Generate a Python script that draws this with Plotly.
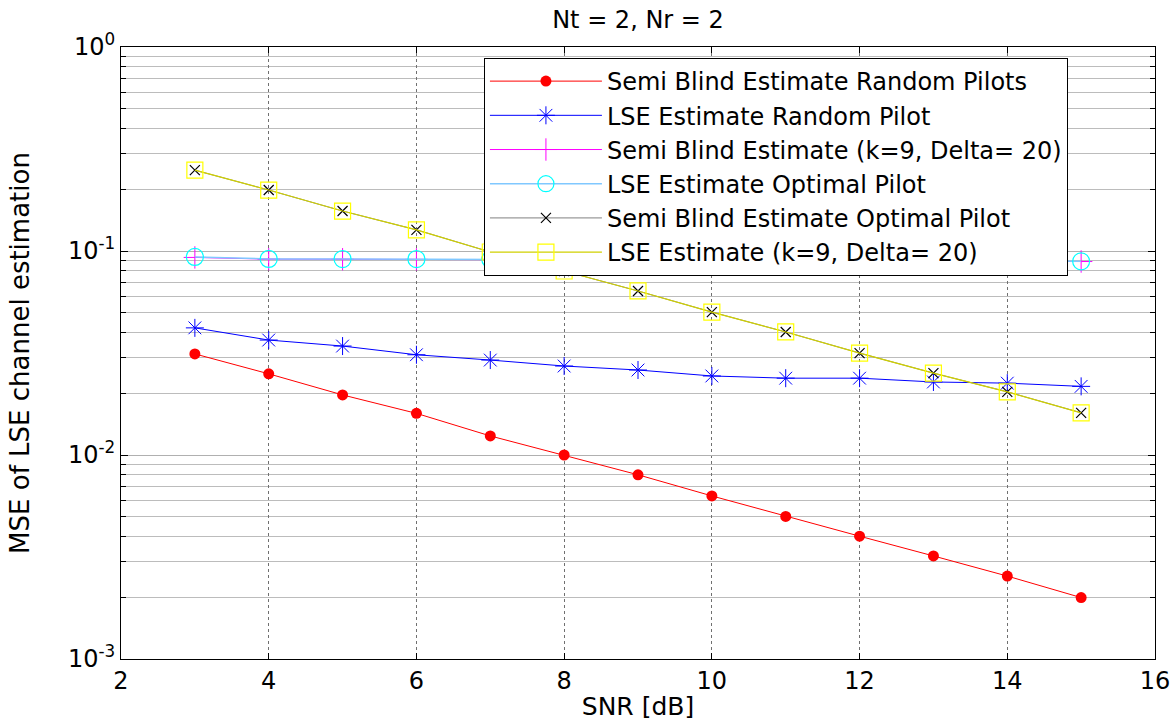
import plotly.graph_objects as go

snr = [3, 4, 5, 6, 7, 8, 9, 10, 11, 12, 13, 14, 15]

semi_blind_random = [0.0313, 0.0250, 0.0197, 0.0160, 0.0124, 0.0100, 0.0080,
                     0.0063, 0.0050, 0.0040, 0.0032, 0.00255, 0.0020]
lse_random = [0.0420, 0.0366, 0.0342, 0.0310, 0.0292, 0.0273, 0.0261,
              0.0244, 0.0238, 0.0238, 0.0228, 0.0225, 0.0217]
semi_blind_k9 = [0.0930, 0.0912, 0.0911, 0.0910, 0.0908, 0.0905, 0.0902,
                 0.0900, 0.0897, 0.0895, 0.0893, 0.0890, 0.0888]
lse_optimal = [0.0935, 0.0914, 0.0913, 0.0912, 0.0910, 0.0907, 0.0904,
               0.0902, 0.0899, 0.0897, 0.0895, 0.0892, 0.0890]
semi_blind_optimal = [0.249, 0.199, 0.157, 0.127, 0.0989, 0.0798, 0.0637,
                      0.0502, 0.0401, 0.0316, 0.0252, 0.0204, 0.0161]
lse_k9 = [0.249, 0.199, 0.157, 0.127, 0.0989, 0.0798, 0.0637,
          0.0502, 0.0401, 0.0316, 0.0252, 0.0204, 0.0161]

y_major = [1e-3, 1e-2, 1e-1, 1]
y_major_text = ["10<sup>-3</sup>", "10<sup>-2</sup>", "10<sup>-1</sup>", "10<sup>0</sup>"]
y_minor = [k * 10.0 ** e for e in (-3, -2, -1) for k in range(2, 10)]

FONT = "DejaVu Sans, Liberation Sans, Arial, sans-serif"

fig = go.Figure()

fig.add_trace(go.Scatter(
    x=snr, y=semi_blind_random, mode="lines+markers",
    name="Semi Blind Estimate Random Pilots",
    line=dict(color="#ff0000", width=1),
    marker=dict(symbol="circle", size=11, color="#ff0000")))
fig.add_trace(go.Scatter(
    x=snr, y=lse_random, mode="lines+markers",
    name="LSE Estimate Random Pilot",
    line=dict(color="#0000ff", width=1),
    marker=dict(symbol="asterisk-open", size=15, color="#0000ff",
                line=dict(color="#0000ff", width=1))))
fig.add_trace(go.Scatter(
    x=snr, y=semi_blind_k9, mode="lines+markers",
    name="Semi Blind Estimate (k=9, Delta= 20)",
    line=dict(color="#ff00ff", width=1),
    marker=dict(symbol="cross-thin-open", size=16, color="#ff00ff",
                line=dict(color="#ff00ff", width=1))))
fig.add_trace(go.Scatter(
    x=snr, y=lse_optimal, mode="lines+markers",
    name="LSE Estimate Optimal Pilot",
    line=dict(color="#80c8ff", width=1.5),
    marker=dict(symbol="circle-open", size=17, color="#00ffff",
                line=dict(color="#00ffff", width=1.2))))
fig.add_trace(go.Scatter(
    x=snr, y=semi_blind_optimal, mode="lines+markers",
    name="Semi Blind Estimate Optimal Pilot",
    line=dict(color="#808080", width=1),
    marker=dict(symbol="x-thin-open", size=10, color="#000000",
                line=dict(color="#000000", width=1.2))))
fig.add_trace(go.Scatter(
    x=snr, y=lse_k9, mode="lines+markers",
    name="LSE Estimate (k=9, Delta= 20)",
    line=dict(color="#d0d000", width=1.2),
    marker=dict(symbol="square-open", size=16, color="#ffff00",
                line=dict(color="#ffff00", width=1.2))))

fig.update_layout(
    width=1176, height=721,
    margin=dict(l=121, r=21, t=47, b=62, autoexpand=False),
    paper_bgcolor="white", plot_bgcolor="white",
    font=dict(family=FONT, color="black", size=22),
    title=dict(text="Nt = 2, Nr = 2", x=0.5, xref="paper", xanchor="center",
               y=1 - 20 / 721, yref="container", yanchor="middle",
               font=dict(size=24, family=FONT, color="black")),
    showlegend=True,
    legend=dict(x=0.351, y=0.982, xanchor="left", yanchor="top",
                bgcolor="white", bordercolor="black", borderwidth=1,
                font=dict(size=24, family=FONT, color="black"),
                itemwidth=112, tracegroupgap=0),
)

fig.update_xaxes(
    range=[2, 16], dtick=2, tick0=2, automargin=False,
    ticks="inside", ticklen=6, tickcolor="black",
    showline=True, linecolor="black", linewidth=1, mirror="ticks",
    showgrid=True, gridcolor="#707070", griddash="dot", gridwidth=1,
    zeroline=False,
    tickfont=dict(size=24, family=FONT),
    title=dict(text="SNR [dB]", font=dict(size=25, family=FONT), standoff=6),
)

fig.update_yaxes(
    type="log", range=[-3, 0], automargin=False,
    tickmode="array", tickvals=y_major, ticktext=y_major_text,
    ticks="inside", ticklen=7, tickcolor="black",
    showline=True, linecolor="black", linewidth=1, mirror="ticks",
    showgrid=True, gridcolor="#b0b0b0", gridwidth=1,
    minor=dict(tickmode="array", tickvals=y_minor, ticks="inside", ticklen=5,
               tickcolor="black", showgrid=True, gridcolor="#bcbcbc", gridwidth=1),
    zeroline=False,
    tickfont=dict(size=24, family=FONT),
    title=dict(text="MSE of LSE channel estimation", font=dict(size=26, family=FONT), standoff=30),
)

fig.write_html("out.html",
               config={"displayModeBar": False},
               post_script="document.body.style.margin='0px';document.body.style.overflow='hidden';")
